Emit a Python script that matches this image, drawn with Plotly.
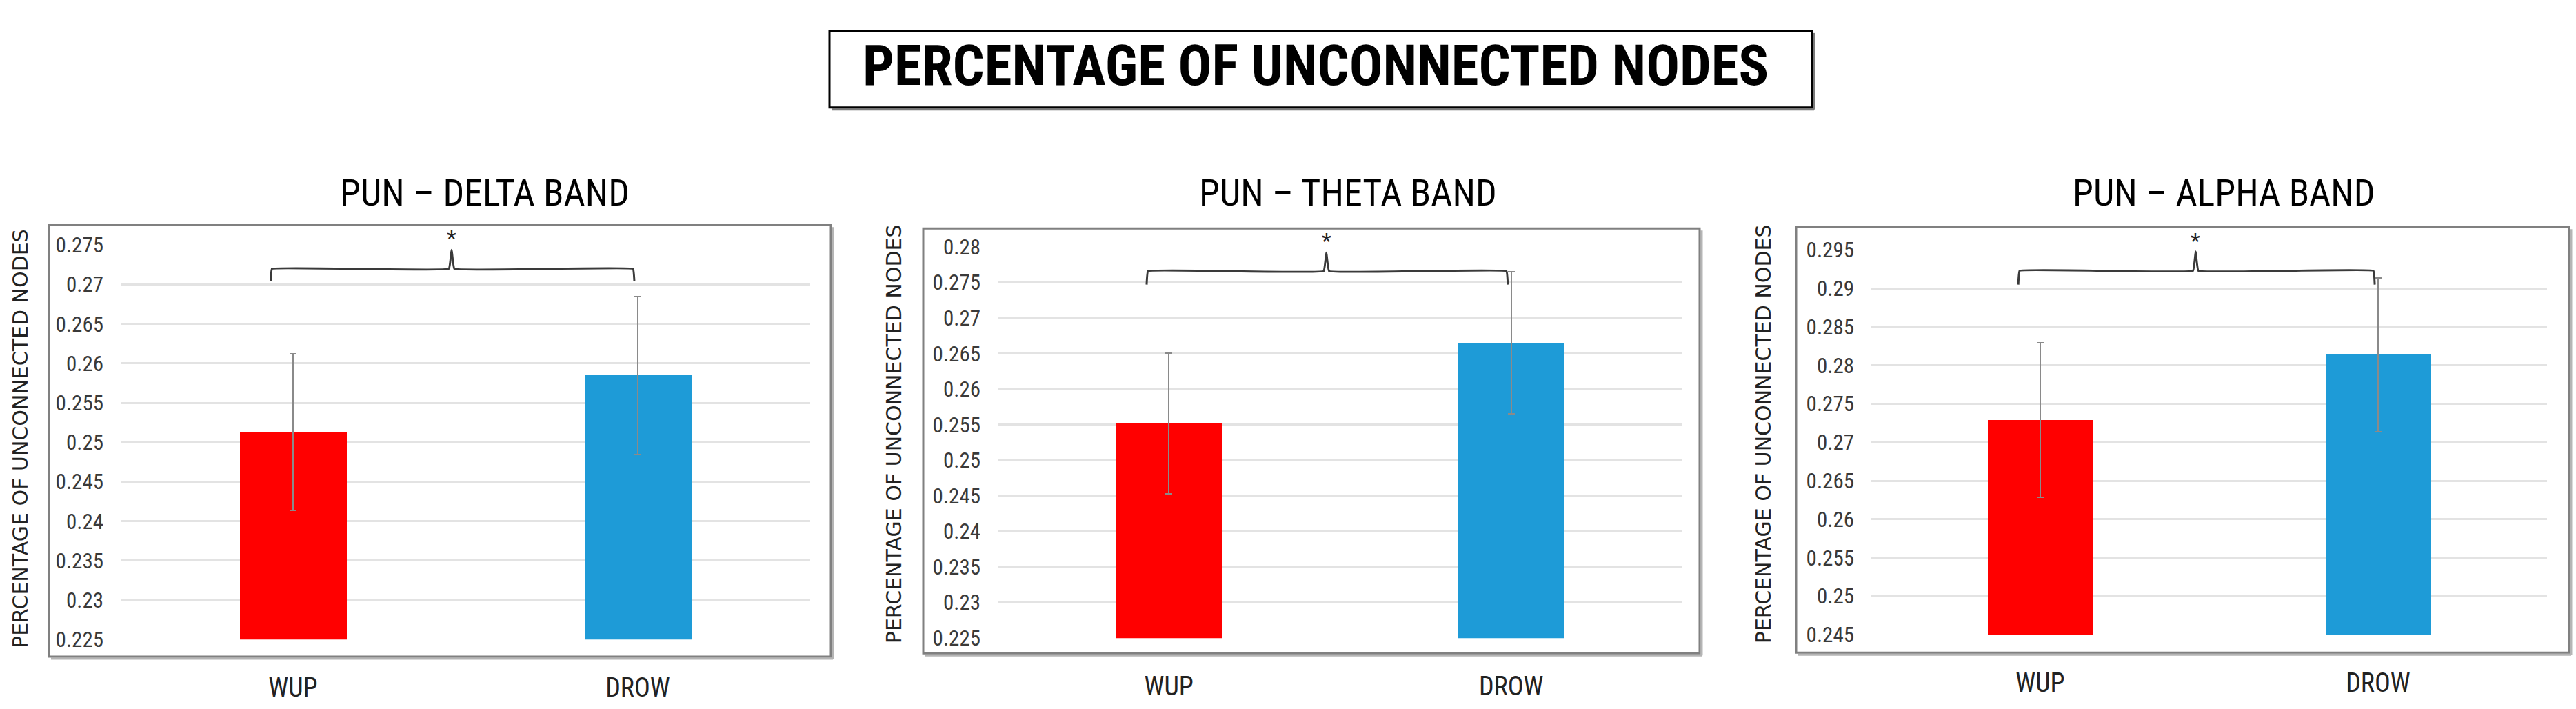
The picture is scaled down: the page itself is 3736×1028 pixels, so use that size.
import plotly.graph_objects as go

W, H = 3736, 1028

# ---------------- data ----------------
categories = ["WUP", "DROW"]
panel_titles = ["PUN – DELTA BAND", "PUN – THETA BAND", "PUN – ALPHA BAND"]
main_title = "PERCENTAGE OF UNCONNECTED NODES"
y_title = "PERCENTAGE OF UNCONNECTED NODES"
sig_label = "*"

delta_means = [0.2513, 0.2585]
delta_err = [0.0099, 0.0100]
theta_means = [0.2552, 0.2665]
theta_err = [0.0099, 0.0100]
alpha_means = [0.2729, 0.2814]
alpha_err = [0.0100, 0.0100]

delta_ticks = [0.225, 0.23, 0.235, 0.24, 0.245, 0.25, 0.255, 0.26, 0.265, 0.27, 0.275]
theta_ticks = [0.225, 0.23, 0.235, 0.24, 0.245, 0.25, 0.255, 0.26, 0.265, 0.27, 0.275, 0.28]
alpha_ticks = [0.245, 0.25, 0.255, 0.26, 0.265, 0.27, 0.275, 0.28, 0.285, 0.29, 0.295]

# ---------------- layout constants ----------------
bar_colors = ["#FF0000", "#1E9BD7"]
NARROW = "Liberation Sans Narrow, Arial Narrow, Roboto Condensed, sans-serif"
WIDE = "DejaVu Sans, Verdana, sans-serif"
cat_pos = list(range(len(categories)))

def px(x):
    return x / W

def py(y):
    return 1 - y / H

panels = [
    dict(means=delta_means, err=delta_err, ticks=delta_ticks, title=panel_titles[0],
         xdom=(175, 1175), ydom=(943.3, 350), box=(71, 320, 1205, 969),
         title_x=703, ytitle_x=30, ytitle_y=641, star_y=339,
         bracket=(0.2720, 0.2704, 0.2744)),
    dict(means=theta_means, err=theta_err, ticks=theta_ticks, title=panel_titles[1],
         xdom=(1447, 2440), ydom=(941, 352.7), box=(1339, 325, 2465, 964),
         title_x=1955, ytitle_x=1296, ytitle_y=634, star_y=343,
         bracket=(0.2766, 0.2747, 0.2792)),
    dict(means=alpha_means, err=alpha_err, ticks=alpha_ticks, title=panel_titles[2],
         xdom=(2714, 3694), ydom=(936, 357.3), box=(2605, 323, 3726, 963),
         title_x=3225, ytitle_x=2557, ytitle_y=634, star_y=343,
         bracket=(0.2923, 0.2905, 0.2948)),
]

fig = go.Figure()
shapes = []
annotations = []
layout_axes = {}

for i, p in enumerate(panels, start=1):
    xa = "x" if i == 1 else f"x{i}"
    ya = "y" if i == 1 else f"y{i}"
    fig.add_trace(go.Bar(
        x=cat_pos, y=p["means"], xaxis=xa, yaxis=ya,
        marker=dict(color=bar_colors, line=dict(width=0)),
        width=0.31,
        base=0,
        error_y=dict(type="data", array=p["err"], visible=True,
                     color="#8A8A8A", thickness=2, width=5),
        showlegend=False, hoverinfo="skip",
    ))
    # significance bracket (data coordinates)
    h, e, pk = p["bracket"]
    xl, xm, xr = -0.065, 0.46, 0.99
    fig.add_trace(go.Scatter(
        x=[xl, xl + 0.004, xm - 0.008, xm, xm + 0.008, xr - 0.004, xr],
        y=[e, h, h, pk, h, h, e],
        xaxis=xa, yaxis=ya, mode="lines",
        line=dict(color="#3A3A3A", width=3, shape="spline", smoothing=0.2),
        showlegend=False, hoverinfo="skip",
    ))
    annotations.append(dict(
        x=xm, y=py(p["star_y"]), xref=xa, yref="paper", text=sig_label,
        showarrow=False,
        font=dict(family=NARROW, size=32, color="#222222"),
        xanchor="center", yanchor="middle",
    ))

    r = [p["ticks"][0], p["ticks"][-1]]
    axname_x = "xaxis" if i == 1 else f"xaxis{i}"
    axname_y = "yaxis" if i == 1 else f"yaxis{i}"
    layout_axes[axname_x] = dict(
        domain=[px(p["xdom"][0]), px(p["xdom"][1])],
        anchor=ya, range=[-0.5, 1.5], type="linear",
        tickvals=cat_pos, ticktext=categories,
        showgrid=False, showline=False, zeroline=False, ticks="",
        tickfont=dict(family=NARROW, size=38, color="#222222"),
        ticklabelstandoff=44,
        fixedrange=True,
    )
    layout_axes[axname_y] = dict(
        domain=[py(p["ydom"][0]), py(p["ydom"][1])],
        anchor=xa, range=r,
        tickvals=p["ticks"], ticktext=[f"{v:g}" for v in p["ticks"]],
        showgrid=True, gridcolor="#E3E3E3", gridwidth=3,
        showline=False, zeroline=False, ticks="",
        tickfont=dict(family=NARROW, size=31, color="#3A3A3A"),
        ticklabelstandoff=24,
        fixedrange=True,
    )

    # panel border with shadow
    x0, y0, x1, y1 = p["box"]
    shapes.append(dict(type="line", xref="paper", yref="paper",
                       x0=px(x0 + 3), x1=px(x1 + 3), y0=py(y1 + 3), y1=py(y1 + 3),
                       line=dict(color="#B5B5B5", width=3), layer="below"))
    shapes.append(dict(type="line", xref="paper", yref="paper",
                       x0=px(x1 + 3), x1=px(x1 + 3), y0=py(y0 + 3), y1=py(y1 + 3),
                       line=dict(color="#B5B5B5", width=3), layer="below"))
    shapes.append(dict(type="rect", xref="paper", yref="paper",
                       x0=px(x0), x1=px(x1), y0=py(y1), y1=py(y0),
                       line=dict(color="#808080", width=3), layer="below"))

    # panel title
    annotations.append(dict(
        x=px(p["title_x"]), y=py(271), xref="paper", yref="paper",
        text=p["title"], showarrow=False,
        font=dict(family=NARROW, size=54, color="#000000"),
        xanchor="center", yanchor="middle",
    ))
    # y axis title
    annotations.append(dict(
        x=px(p["ytitle_x"]), y=py(p["ytitle_y"]), xref="paper", yref="paper",
        text=y_title, showarrow=False, textangle=-90,
        font=dict(family=WIDE, size=30, color="#222222"),
        xanchor="center", yanchor="middle",
    ))

# main title box with shadow
tx0, ty0, tx1, ty1 = 1203, 28, 2628, 143
shapes.append(dict(type="line", xref="paper", yref="paper",
                   x0=px(tx0 + 3), x1=px(tx1 + 3), y0=py(ty1 + 3), y1=py(ty1 + 3),
                   line=dict(color="#7A7A7A", width=3)))
shapes.append(dict(type="line", xref="paper", yref="paper",
                   x0=px(tx1 + 3), x1=px(tx1 + 3), y0=py(ty0 + 3), y1=py(ty1 + 3),
                   line=dict(color="#7A7A7A", width=3)))
shapes.append(dict(type="rect", xref="paper", yref="paper",
                   x0=px(tx0), x1=px(tx1), y0=py(ty1), y1=py(ty0),
                   line=dict(color="#000000", width=3)))
annotations.append(dict(
    x=px(1908), y=py(80), xref="paper", yref="paper",
    text=f"<b>{main_title}</b>", showarrow=False,
    font=dict(family=NARROW, size=81, color="#000000"),
    xanchor="center", yanchor="middle",
))

fig.update_layout(
    width=W, height=H,
    margin=dict(l=0, r=0, t=0, b=0),
    paper_bgcolor="white", plot_bgcolor="white",
    shapes=shapes, annotations=annotations,
    bargap=0, showlegend=False,
    **layout_axes,
)

fig.write_html("out.html", config={"displayModeBar": False},
               post_script="document.body.style.margin='0';document.body.style.overflow='hidden';")
